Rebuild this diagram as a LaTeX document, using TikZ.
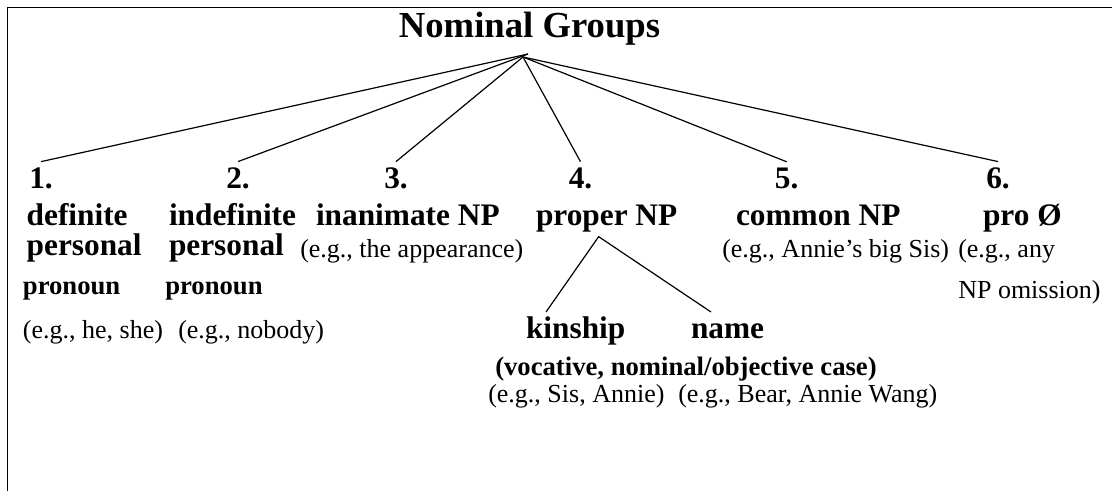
\documentclass[tikz,border=0pt]{standalone}
\usepackage{fontspec}
\setmainfont{Liberation Serif}
\usepackage{tikz}

\tikzset{
  head/.style={font=\fontsize{27.5}{33}\selectfont\bfseries, inner sep=0pt, anchor=base},
  num/.style={font=\fontsize{23.5}{28}\selectfont\bfseries, inner sep=0pt, outer sep=5pt, anchor=base},
  cat/.style={font=\fontsize{23.5}{28}\selectfont\bfseries, inner sep=0pt, outer sep=3pt,
    text height=16.5pt, text depth=5pt, anchor=base west},
  small/.style={font=\fontsize{20}{24}\selectfont\bfseries, inner sep=0pt, anchor=base west},
  eg/.style={font=\fontsize{19.5}{23}\selectfont, inner sep=0pt, anchor=base west},
  branch/.style={line width=0.9pt},
}

\begin{document}
\begin{tikzpicture}[x=0.75pt,y=-0.75pt]
  \useasboundingbox (0,0) rectangle (1112,491);

  % Frame
  \draw[line width=1.3pt] (7.5,491) -- (7.5,7.5) -- (1112,7.5);

  % Title and root
  \node[head] (title) at (529.5,38) {Nominal Groups};
  \coordinate (top) at (523,57);
  \coordinate (topL) at (528,54);

  % Numbers
  \node[num] (n1) at (41,189) {1.};
  \node[num] (n2) at (238,189) {2.};
  \node[num] (n3) at (396,189) {3.};
  \node[num] (n4) at (580.5,189) {4.};
  \node[num] (n5) at (786.7,189) {5.};
  \node[num] (n6) at (998,189) {6.};

  % Categories
  \node[cat] (def) at (22.7,226) {definite};
  \node[cat] (indef) at (165,226) {indefinite};
  \node[cat] (inan) at (312,226) {inanimate NP};
  \node[cat] (pnp) at (532,226) {proper NP};
  \node[cat] (cnp) at (732,226) {common NP};
  \node[cat] (pro) at (979,226) {pro Ø};

  \node[cat] (pers1) at (22.7,256) {personal};
  \node[cat] (pers2) at (165,256) {personal};
  \node[eg] (eg3) at (300,258) {(e.g., the appearance)};
  \node[eg] (eg5) at (722,258) {(e.g., Annie’s big Sis)};
  \node[eg] (eg6a) at (958,258) {(e.g., any};

  \node[small] (pron1) at (22.7,295) {pronoun};
  \node[small] (pron2) at (165,295) {pronoun};
  \node[eg] (eg6b) at (958,299) {NP omission)};

  \node[eg] (eg1) at (22.7,338) {(e.g., he, she)};
  \node[eg] (eg2) at (178,338) {(e.g., nobody)};

  % Proper NP subtypes
  \node[cat] (kin) at (522,338) {kinship};
  \node[cat] (name) at (687,338) {name};
  \node[small] (case) at (495,375) {(vocative, nominal/objective case)};
  \node[eg] (egkin) at (488,402) {(e.g., Sis, Annie)};
  \node[eg] (egname) at (678,402) {(e.g., Bear, Annie Wang)};

  % Branches
  \draw[branch] (topL) -- (n1.north);
  \draw[branch] (topL) -- (n2.north);
  \draw[branch] (top) -- (n3.north);
  \draw[branch] (top) -- (n4.north);
  \draw[branch] (top) -- (n5.north);
  \draw[branch] (top) -- (n6.north);
  \draw[branch] ([xshift=18pt]kin.north west) -- ([xshift=-6pt]pnp.south) -- ([xshift=18pt]name.north west);
\end{tikzpicture}
\end{document}
